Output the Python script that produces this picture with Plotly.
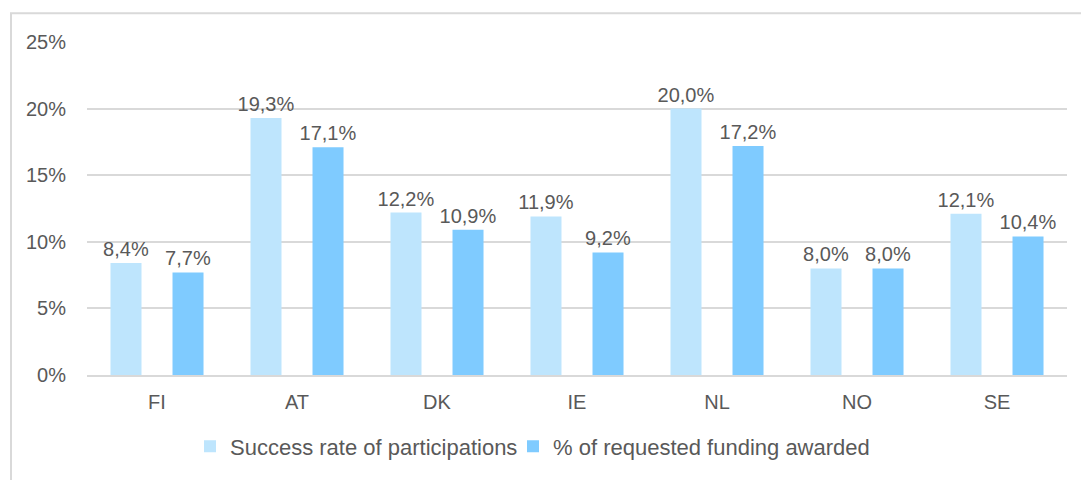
import plotly.graph_objects as go

countries = ["FI", "AT", "DK", "IE", "NL", "NO", "SE"]
success_rate = [8.4, 19.3, 12.2, 11.9, 20.0, 8.0, 12.1]
funding_awarded = [7.7, 17.1, 10.9, 9.2, 17.2, 8.0, 10.4]
series_names = ["Success rate of participations", "% of requested funding awarded"]
tick_vals = [0, 5, 10, 15, 20, 25]
tick_text = ["0%", "5%", "10%", "15%", "20%", "25%"]

def fmt(v):
    return f"{v:.1f}".replace(".", ",") + "%"

W, H = 1081, 480
L, R, T, B = 87, 14, 42, 103
pw, ph = W - L - R, H - T - B
FONT = "Liberation Sans, Arial, sans-serif"
GRAY = "#595959"

fig = go.Figure()
fig.add_bar(x=countries, y=success_rate, name=series_names[0],
            marker=dict(color="#BEE5FD", line=dict(width=0)),
            text=[fmt(v) for v in success_rate], textposition="outside",
            constraintext="none", legend="legend",
            textfont=dict(color=GRAY, size=20, family=FONT), cliponaxis=False)
fig.add_bar(x=countries, y=funding_awarded, name=series_names[1],
            marker=dict(color="#7FCBFF", line=dict(width=0)),
            text=[fmt(v) for v in funding_awarded], textposition="outside",
            constraintext="none", legend="legend2",
            textfont=dict(color=GRAY, size=20, family=FONT), cliponaxis=False)

def px_x(p):
    return (p - L) / pw

def px_y(p):
    return (H - B - p) / ph

fig.add_shape(type="rect", xref="paper", yref="paper",
              x0=px_x(11), x1=px_x(1090), y0=px_y(13), y1=px_y(495),
              line=dict(color="#D9D9D9", width=2), fillcolor="rgba(0,0,0,0)", layer="below")

legend_common = dict(orientation="h", xanchor="left", yanchor="middle",
                     y=px_y(449), font=dict(size=22, color=GRAY, family=FONT),
                     itemwidth=30, bgcolor="rgba(0,0,0,0)")

fig.update_layout(
    width=W, height=H,
    margin=dict(l=L, r=R, t=T, b=B),
    paper_bgcolor="white", plot_bgcolor="white",
    font=dict(family=FONT, color=GRAY, size=20),
    barmode="group", bargap=0.114, bargroupgap=0.5,
    showlegend=True,
    legend=dict(x=px_x(190), **legend_common),
    legend2=dict(x=px_x(513), **legend_common),
)
fig.update_xaxes(showgrid=False, showline=True, linecolor="#D9D9D9", linewidth=2,
                 tickfont=dict(size=20, color=GRAY, family=FONT), ticks="",
                 ticklabelstandoff=8)
fig.update_yaxes(range=[0, 25], tickvals=tick_vals, ticktext=tick_text,
                 showgrid=True, gridcolor="#D9D9D9", gridwidth=2, zeroline=False,
                 showline=False, ticks="", tickfont=dict(size=20, color=GRAY, family=FONT),
                 ticklabelstandoff=20)

fig.write_html("out.html", config={"displayModeBar": False},
               post_script="document.body.style.margin='0';")
